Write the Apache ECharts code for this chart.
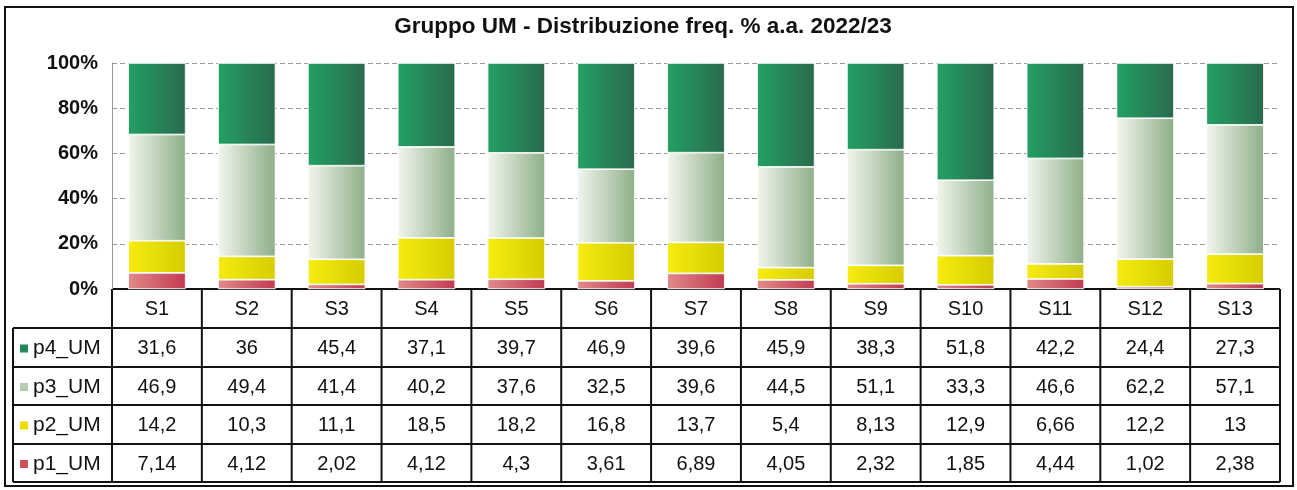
<!DOCTYPE html>
<html>
<head>
<meta charset="utf-8">
<script src="https://cdn.jsdelivr.net/npm/echarts@6/dist/echarts.min.js"></script>
<style>
	html, body { margin: 0; padding: 0; background: #fff; }
	#chart { width: 1297px; height: 490px; }
</style>
</head>
<body>
<div id="chart"></div>
<script>
// Data
var categories = ['S1', 'S2', 'S3', 'S4', 'S5', 'S6', 'S7', 'S8', 'S9', 'S10', 'S11', 'S12', 'S13'];
var p4 = [31.6, 36, 45.4, 37.1, 39.7, 46.9, 39.6, 45.9, 38.3, 51.8, 42.2, 24.4, 27.3];
var p3 = [46.9, 49.4, 41.4, 40.2, 37.6, 32.5, 39.6, 44.5, 51.1, 33.3, 46.6, 62.2, 57.1];
var p2 = [14.2, 10.3, 11.1, 18.5, 18.2, 16.8, 13.7, 5.4, 8.13, 12.9, 6.66, 12.2, 13];
var p1 = [7.14, 4.12, 2.02, 4.12, 4.3, 3.61, 6.89, 4.05, 2.32, 1.85, 4.44, 1.02, 2.38];
var yTicks = [0, 20, 40, 60, 80, 100];

var seriesDefs = [
	{ name: 'p1_UM', data: p1, c0: '#e08a8a', c1: '#c23a52', key: '#d0505a' },
	{ name: 'p2_UM', data: p2, c0: '#f6ec10', c1: '#d6cc00', key: '#ece000' },
	{ name: 'p3_UM', data: p3, c0: '#f2f6ee', c1: '#8eae88', key: '#b8ccb0' },
	{ name: 'p4_UM', data: p4, c0: '#22a064', c1: '#2a6a4c', key: '#1f8a5a' }
];

// layout
var W = 1297;
var plotLeft = 112, plotRight = 1280, plotTop = 63, plotBottom = 289;
var labelLeft = 13;
var rowY = [289, 328, 367, 405, 444, 482];

function fmt(v) {
	return String(v).replace('.', ',');
}

// percentage stack like the original (each column scaled to 100)
var totals = categories.map(function (c, i) {
	return p1[i] + p2[i] + p3[i] + p4[i];
});

var series = seriesDefs.map(function (s) {
	return {
		name: s.name,
		type: 'bar',
		stack: 'all',
		barCategoryGap: '36%',
		data: s.data.map(function (v, i) { return v / totals[i] * 100; }),
		itemStyle: {
			color: new echarts.graphic.LinearGradient(0, 0, 1, 0, [
				{ offset: 0, color: s.c0 },
				{ offset: 1, color: s.c1 }
			]),
			borderColor: '#ffffff',
			borderWidth: 0.6
		}
	};
});

var chart = echarts.init(document.getElementById('chart'));
chart.setOption({
	animation: false,
	title: {
		text: 'Gruppo UM - Distribuzione freq. % a.a. 2022/23',
		left: 638,
		top: 10,
		textAlign: 'center',
		textStyle: { fontFamily: 'Liberation Sans', fontWeight: 'bold', fontSize: 22.5, color: '#111' }
	},
	grid: { left: plotLeft, right: W - plotRight, top: plotTop, bottom: 490 - plotBottom },
	xAxis: {
		type: 'category',
		data: categories,
		axisLine: { show: false },
		axisTick: { show: false },
		axisLabel: { show: false }
	},
	yAxis: {
		type: 'value',
		min: 0,
		max: 100,
		interval: 20,
		axisLine: { show: true, lineStyle: { color: '#999', width: 1 } },
		axisTick: { show: false },
		axisLabel: {
			margin: 14,
			fontFamily: 'Liberation Sans',
			fontWeight: 'bold',
			fontSize: 20,
			color: '#111',
			formatter: function (v) { return yTicks.indexOf(v) >= 0 ? v + '%' : ''; }
		},
		splitLine: { lineStyle: { color: '#999', type: [5, 3], width: 1 } }
	},
	series: series
});

// data table under the plot, built from the arrays above
var colW = (plotRight - plotLeft) / categories.length;
var g = [];
var lineStyle = { stroke: '#111', lineWidth: 2 };

// outer frame
g.push({ type: 'rect', shape: { x: 5, y: 7, width: 1288, height: 479 }, style: { fill: 'none', stroke: '#111', lineWidth: 2 }, silent: true });

rowY.forEach(function (y, r) {
	var x0 = r === 0 ? plotLeft : labelLeft;
	g.push({ type: 'line', shape: { x1: x0, y1: y, x2: plotRight, y2: y }, style: lineStyle, silent: true });
});
g.push({ type: 'line', shape: { x1: labelLeft, y1: rowY[1], x2: labelLeft, y2: rowY[5] }, style: lineStyle, silent: true });
for (var i = 0; i <= categories.length; i++) {
	var x = plotLeft + i * colW;
	g.push({ type: 'line', shape: { x1: x, y1: rowY[0], x2: x, y2: rowY[5] }, style: lineStyle, silent: true });
}

var txt = { fontFamily: 'Liberation Sans', fontSize: 20, fill: '#111', align: 'center', verticalAlign: 'middle' };

categories.forEach(function (c, i) {
	g.push({ type: 'text', x: plotLeft + (i + 0.5) * colW, y: (rowY[0] + rowY[1]) / 2 + 1, style: Object.assign({ text: c }, txt), silent: true });
});

// table rows: p4 on top, p1 at the bottom
var rows = seriesDefs.slice().reverse();
rows.forEach(function (s, r) {
	var yc = (rowY[r + 1] + rowY[r + 2]) / 2 + 1;
	g.push({ type: 'rect', shape: { x: 20, y: yc - 4, width: 8, height: 8 }, style: { fill: s.key }, silent: true });
	g.push({ type: 'text', x: 33, y: yc, style: Object.assign({ text: s.name }, txt, { align: 'left', fontSize: 21 }), silent: true });
	s.data.forEach(function (v, i) {
		g.push({ type: 'text', x: plotLeft + (i + 0.5) * colW, y: yc, style: Object.assign({ text: fmt(v) }, txt), silent: true });
	});
});

chart.setOption({ graphic: g });
</script>
</body>
</html>
